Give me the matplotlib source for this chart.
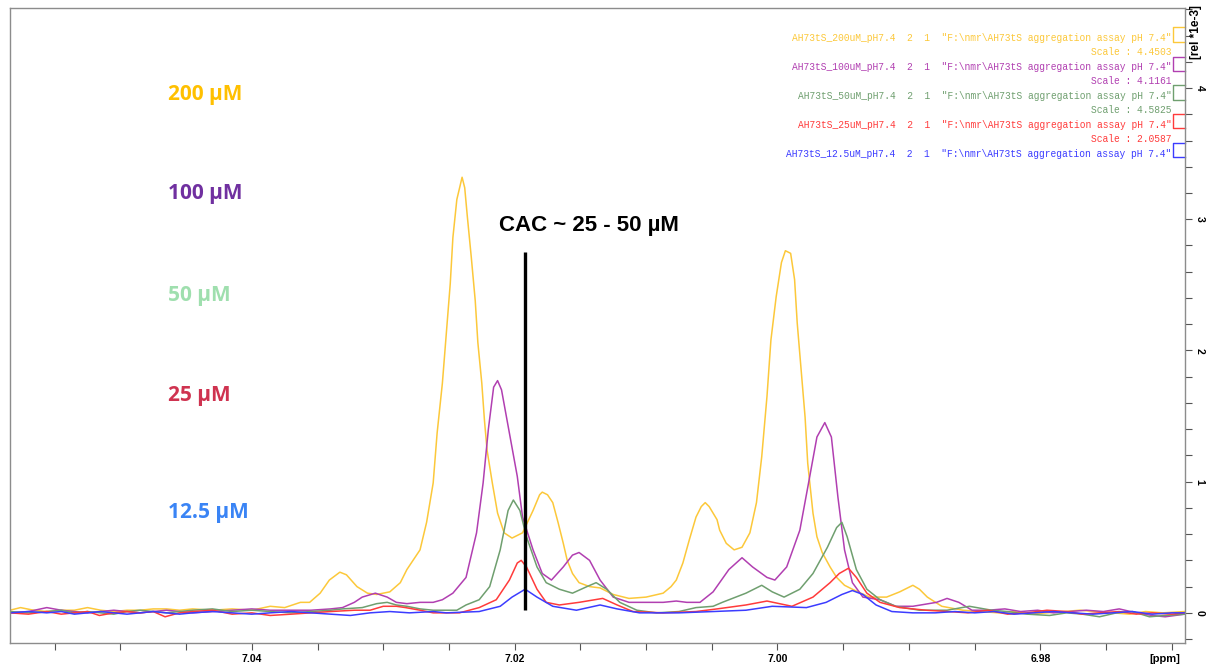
import matplotlib
matplotlib.use("Agg")
import matplotlib.pyplot as plt
from matplotlib.ticker import MultipleLocator

# --- spectra (ppm, intensity in rel*1e-3) ---
ppm_200 = [7.0584, 7.0576, 7.0566, 7.0556, 7.0545, 7.0535, 7.0525, 7.0515, 7.0505, 7.0495,
           7.0485, 7.0475, 7.0465, 7.0455, 7.0445, 7.0430, 7.0415, 7.0400, 7.0386, 7.0375,
           7.0363, 7.0356, 7.0348, 7.0341, 7.0333, 7.0328, 7.0320, 7.0312, 7.0305, 7.0295,
           7.0287, 7.0282, 7.0272, 7.0267, 7.0262, 7.0259, 7.0255, 7.0252, 7.0249, 7.0247,
           7.0244, 7.0240, 7.0238, 7.0236, 7.0233, 7.0230, 7.0228, 7.0225, 7.0223, 7.0221,
           7.0217, 7.0213, 7.0208, 7.0202, 7.0194, 7.0186, 7.0181, 7.0179, 7.0175, 7.0171,
           7.0167, 7.0163, 7.0160, 7.0156, 7.0151, 7.0143, 7.0135, 7.0125, 7.0113, 7.0100,
           7.0087, 7.0081, 7.0077, 7.0072, 7.0067, 7.0062, 7.0058, 7.0055, 7.0052, 7.0046,
           7.0044, 7.0039, 7.0033, 7.0027, 7.0021, 7.0016, 7.0012, 7.0008, 7.0005, 7.0001,
           6.9997, 6.9994, 6.9990, 6.9987, 6.9985, 6.9982, 6.9979, 6.9977, 6.9973, 6.9970,
           6.9966, 6.9960, 6.9955, 6.9949, 6.9943, 6.9930, 6.9917, 6.9907, 6.9897, 6.9892,
           6.9886, 6.9875, 6.9859, 6.9845, 6.9832, 6.9820, 6.9808, 6.9795, 6.9782, 6.9770,
           6.9758, 6.9745, 6.9732, 6.9720, 6.9707, 6.9690]
int_200 = [0.02, 0.04, 0.02, 0.01, 0.02, 0.02, 0.04, 0.02, 0.01, 0.02,
           0.02, 0.03, 0.03, 0.02, 0.03, 0.02, 0.03, 0.02, 0.05, 0.04,
           0.08, 0.08, 0.15, 0.25, 0.31, 0.29, 0.20, 0.15, 0.14, 0.16,
           0.23, 0.33, 0.48, 0.69, 0.99, 1.37, 1.75, 2.13, 2.51, 2.86,
           3.15, 3.32, 3.24, 3.02, 2.71, 2.38, 2.06, 1.75, 1.47, 1.24,
           0.99, 0.76, 0.61, 0.57, 0.61, 0.78, 0.90, 0.92, 0.90, 0.84,
           0.69, 0.53, 0.40, 0.30, 0.23, 0.20, 0.19, 0.14, 0.11, 0.12,
           0.15, 0.20, 0.25, 0.38, 0.56, 0.73, 0.81, 0.84, 0.81, 0.71,
           0.63, 0.53, 0.48, 0.50, 0.61, 0.84, 1.19, 1.65, 2.08, 2.41,
           2.67, 2.76, 2.74, 2.54, 2.21, 1.85, 1.49, 1.14, 0.76, 0.58,
           0.46, 0.35, 0.27, 0.21, 0.18, 0.12, 0.12, 0.16, 0.21, 0.18,
           0.12, 0.05, 0.02, 0.01, 0.00, 0.01, -0.01, 0.00, 0.01, 0.02,
           0.01, 0.00, -0.01, 0.01, 0.00, 0.01]

ppm_100 = [7.0584, 7.0570, 7.0556, 7.0545, 7.0535, 7.0525, 7.0515, 7.0505, 7.0495, 7.0485,
           7.0475, 7.0465, 7.0455, 7.0445, 7.0430, 7.0415, 7.0400, 7.0386, 7.0370, 7.0355,
           7.0340, 7.0331, 7.0322, 7.0316, 7.0306, 7.0297, 7.0290, 7.0282, 7.0272, 7.0262,
           7.0255, 7.0247, 7.0237, 7.0229, 7.0224, 7.0220, 7.0216, 7.0213, 7.0210, 7.0204,
           7.0198, 7.0194, 7.0186, 7.0179, 7.0172, 7.0163, 7.0156, 7.0151, 7.0143, 7.0135,
           7.0125, 7.0113, 7.0100, 7.0087, 7.0077, 7.0069, 7.0059, 7.0049, 7.0037, 7.0027,
           7.0019, 7.0008, 7.0002, 6.9993, 6.9983, 6.9976, 6.9970, 6.9964, 6.9959, 6.9954,
           6.9949, 6.9943, 6.9935, 6.9922, 6.9910, 6.9897, 6.9879, 6.9871, 6.9862, 6.9852,
           6.9840, 6.9827, 6.9815, 6.9802, 6.9790, 6.9778, 6.9765, 6.9752, 6.9740, 6.9727,
           6.9715, 6.9705, 6.9690]
int_100 = [0.00, 0.01, 0.04, 0.02, 0.01, 0.00, 0.01, 0.02, 0.01, 0.00,
           0.01, 0.02, 0.01, 0.00, 0.01, 0.02, 0.03, 0.02, 0.02, 0.02,
           0.03, 0.04, 0.08, 0.12, 0.15, 0.12, 0.08, 0.07, 0.08, 0.08,
           0.10, 0.15, 0.27, 0.61, 0.99, 1.40, 1.72, 1.77, 1.70, 1.37,
           1.04, 0.73, 0.48, 0.30, 0.25, 0.35, 0.44, 0.46, 0.40, 0.25,
           0.12, 0.08, 0.08, 0.08, 0.09, 0.08, 0.08, 0.16, 0.33, 0.42,
           0.35, 0.27, 0.25, 0.35, 0.63, 1.01, 1.34, 1.45, 1.34, 0.88,
           0.48, 0.23, 0.12, 0.10, 0.05, 0.05, 0.08, 0.11, 0.08, 0.02,
           0.02, 0.03, 0.01, 0.02, 0.00, 0.01, 0.02, 0.01, 0.03, 0.00,
           -0.02, -0.03, -0.01]

ppm_50 = [7.0584, 7.0570, 7.0556, 7.0545, 7.0535, 7.0525, 7.0515, 7.0505, 7.0495, 7.0485,
          7.0475, 7.0465, 7.0455, 7.0445, 7.0430, 7.0415, 7.0400, 7.0386, 7.0370, 7.0355,
          7.0340, 7.0331, 7.0316, 7.0305, 7.0297, 7.0290, 7.0282, 7.0272, 7.0262, 7.0244,
          7.0237, 7.0227, 7.0219, 7.0211, 7.0205, 7.0201, 7.0196, 7.0191, 7.0183, 7.0176,
          7.0166, 7.0156, 7.0145, 7.0138, 7.0130, 7.0120, 7.0107, 7.0092, 7.0075, 7.0062,
          7.0049, 7.0042, 7.0024, 7.0012, 7.0004, 6.9995, 6.9983, 6.9973, 6.9962, 6.9955,
          6.9951, 6.9947, 6.9940, 6.9932, 6.9922, 6.9910, 6.9892, 6.9871, 6.9854, 6.9837,
          6.9825, 6.9810, 6.9793, 6.9780, 6.9768, 6.9755, 6.9742, 6.9730, 6.9717, 6.9705,
          6.9690]
int_50 = [0.01, 0.00, 0.01, 0.02, 0.00, 0.01, 0.00, -0.01, 0.01, 0.02,
          0.01, 0.00, 0.01, 0.02, 0.03, 0.01, 0.02, 0.01, 0.00, 0.01,
          0.02, 0.03, 0.04, 0.07, 0.08, 0.06, 0.05, 0.03, 0.02, 0.02,
          0.06, 0.10, 0.20, 0.48, 0.78, 0.86, 0.78, 0.58, 0.35, 0.23,
          0.18, 0.15, 0.20, 0.23, 0.18, 0.08, 0.02, 0.00, 0.01, 0.04,
          0.05, 0.08, 0.15, 0.21, 0.16, 0.12, 0.18, 0.30, 0.50, 0.65,
          0.69, 0.58, 0.33, 0.18, 0.10, 0.05, 0.02, 0.02, 0.05, 0.02,
          0.01, -0.01, -0.02, 0.00, -0.01, -0.03, 0.00, 0.01, -0.03, -0.02,
          -0.01]

ppm_25 = [7.0584, 7.0570, 7.0556, 7.0545, 7.0535, 7.0525, 7.0516, 7.0505, 7.0495, 7.0485,
          7.0475, 7.0466, 7.0455, 7.0445, 7.0430, 7.0415, 7.0400, 7.0386, 7.0370, 7.0355,
          7.0340, 7.0322, 7.0310, 7.0300, 7.0290, 7.0283, 7.0272, 7.0262, 7.0242, 7.0227,
          7.0214, 7.0204, 7.0198, 7.0195, 7.0191, 7.0183, 7.0176, 7.0166, 7.0151, 7.0133,
          7.0122, 7.0110, 7.0087, 7.0062, 7.0046, 7.0024, 7.0008, 6.9989, 6.9973, 6.9960,
          6.9953, 6.9946, 6.9940, 6.9932, 6.9922, 6.9907, 6.9887, 6.9870, 6.9855, 6.9840,
          6.9825, 6.9810, 6.9795, 6.9780, 6.9768, 6.9755, 6.9740, 6.9727, 6.9715, 6.9700,
          6.9690]
int_25 = [0.00, -0.01, 0.01, -0.01, 0.00, 0.01, -0.02, 0.00, 0.01, 0.00,
          0.01, -0.03, 0.00, 0.01, 0.02, -0.01, 0.00, -0.02, -0.01, 0.00,
          0.01, 0.02, 0.02, 0.05, 0.05, 0.04, 0.02, 0.00, 0.00, 0.04,
          0.10, 0.25, 0.38, 0.40, 0.35, 0.18, 0.08, 0.06, 0.08, 0.11,
          0.06, 0.01, 0.00, 0.01, 0.03, 0.06, 0.09, 0.05, 0.12, 0.23,
          0.30, 0.34, 0.27, 0.15, 0.08, 0.04, 0.02, 0.01, 0.00, 0.02,
          -0.01, 0.00, 0.02, 0.01, -0.01, 0.00, 0.01, -0.01, 0.00, -0.01,
          0.00]

ppm_12 = [7.0584, 7.0570, 7.0556, 7.0545, 7.0535, 7.0525, 7.0515, 7.0505, 7.0495, 7.0485,
          7.0475, 7.0465, 7.0455, 7.0445, 7.0430, 7.0415, 7.0400, 7.0386, 7.0370, 7.0355,
          7.0340, 7.0325, 7.0310, 7.0295, 7.0280, 7.0262, 7.0252, 7.0227, 7.0211, 7.0202,
          7.0192, 7.0183, 7.0171, 7.0153, 7.0135, 7.0122, 7.0105, 7.0075, 7.0049, 7.0024,
          7.0004, 6.9978, 6.9963, 6.9951, 6.9943, 6.9935, 6.9925, 6.9913, 6.9897, 6.9880,
          6.9865, 6.9850, 6.9835, 6.9820, 6.9805, 6.9790, 6.9775, 6.9760, 6.9745, 6.9730,
          6.9715, 6.9700, 6.9690]
int_12 = [0.00, 0.01, 0.00, 0.01, -0.01, 0.00, 0.01, 0.00, -0.01, 0.00,
          0.01, 0.00, -0.01, 0.00, 0.01, 0.00, -0.01, 0.00, 0.01, 0.00,
          -0.01, -0.02, 0.00, 0.01, 0.00, 0.01, 0.00, 0.01, 0.05, 0.12,
          0.18, 0.12, 0.05, 0.02, 0.06, 0.03, 0.00, 0.00, 0.01, 0.02,
          0.05, 0.04, 0.08, 0.14, 0.17, 0.14, 0.06, 0.01, 0.00, 0.00,
          0.01, 0.00, 0.01, -0.01, 0.00, 0.01, 0.00, -0.01, 0.00, 0.01,
          -0.01, 0.00, 0.00]

series_ppm = [ppm_200, ppm_100, ppm_50, ppm_25, ppm_12]
series_int = [int_200, int_100, int_50, int_25, int_12]
line_colors = ["#fcc83a", "#b13fb1", "#6f9f6f", "#ff3b3b", "#3c3cff"]

names = ["AH73tS_200uM_pH7.4", "AH73tS_100uM_pH7.4", "AH73tS_50uM_pH7.4",
         "AH73tS_25uM_pH7.4", "AH73tS_12.5uM_pH7.4"]
scales = ["4.4503", "4.1161", "4.5825", "2.0587", None]
conc_labels = ["200 µM", "100 µM", "50 µM", "25 µM", "12.5 µM"]
conc_colors = ["#ffc000", "#7030a0", "#9fdfae", "#cf3350", "#3a84f5"]
conc_y = [0.864, 0.708, 0.548, 0.390, 0.206]

cac_text = "CAC ~ 25 - 50 µM"
cac_ppm = 7.0192
cac_lo, cac_hi = 0.02, 2.75

x_ticks = [7.04, 7.02, 7.00, 6.98]
y_ticks = [0, 1, 2, 3, 4]

fig = plt.figure(figsize=(12.09, 6.66), dpi=100)
ax = fig.add_axes([0.00827, 0.0345, 0.9718, 0.9535])

for xs, ys, c in zip(series_ppm, series_int, line_colors):
  ax.plot(xs, ys, color=c, lw=1.1)

ax.set_xlim(7.0584, 6.9690)
ax.set_ylim(-0.23, 4.61)

for sp in ax.spines.values():
  sp.set_color("#8c8c8c")
  sp.set_linewidth(1.0)

ax.xaxis.set_minor_locator(MultipleLocator(0.005))
ax.set_xticks(x_ticks)
ax.set_xticklabels(["%.2f" % v for v in x_ticks], fontsize=7.5, fontweight="bold",
                   family="Liberation Sans")
ax.yaxis.tick_right()
ax.set_yticks(y_ticks)
ax.yaxis.set_minor_locator(MultipleLocator(0.2))
ax.set_yticklabels([str(v) for v in y_ticks], fontsize=7.5, fontweight="bold",
                   family="Liberation Sans", rotation=-90, va="center")
ax.tick_params(which="both", direction="out", length=5, width=0.8, color="#555555")
ax.tick_params(axis="x", which="both", pad=3)
ax.tick_params(axis="y", which="both", pad=2)

fig.text(0.9635, 0.0105, "[ppm]", fontsize=8, fontweight="bold", family="Liberation Sans",
         ha="center", va="center")
fig.text(0.9895, 0.992, "[rel *1e-3]", fontsize=8.5, fontweight="bold",
         family="Liberation Sans", rotation=90, ha="center", va="top")

# dataset header text (TopSpin style)
row_y = [0.953, 0.931, 0.907, 0.885, 0.861, 0.839, 0.816, 0.794, 0.770]
k = 0
for nm, sc, c in zip(names, scales, line_colors):
  ax.text(0.9885, row_y[k], nm + '  2  1  "F:\\nmr\\AH73tS aggregation assay pH 7.4"',
          transform=ax.transAxes, ha="right", va="center", fontsize=6.9,
          family="Liberation Mono", color=c)
  k += 1
  if sc is not None:
    ax.text(0.9885, row_y[k], "Scale : " + sc, transform=ax.transAxes, ha="right",
            va="center", fontsize=6.9, family="Liberation Mono", color=c)
    k += 1

brk = [(0.970, 0.946), (0.923, 0.901), (0.879, 0.855), (0.833, 0.811), (0.787, 0.765)]
for (t, b), c in zip(brk, line_colors):
  ax.plot([1.0, 0.9895, 0.9895, 1.0], [t, t, b, b], color=c, lw=1.0,
          transform=ax.transAxes, clip_on=False)

for lab, c, yy in zip(conc_labels, conc_colors, conc_y):
  ax.text(0.1345, yy, lab, transform=ax.transAxes, ha="left", va="center",
          fontsize=15, fontweight="bold", family="Open Sans", color=c)

ax.vlines(cac_ppm, cac_lo, cac_hi, color="black", lw=2.4)
ax.text(0.493, 0.658, cac_text, transform=ax.transAxes, ha="center", va="center",
        fontsize=16, fontweight="bold", family="Liberation Sans")

fig.savefig("out.png", dpi=100)
